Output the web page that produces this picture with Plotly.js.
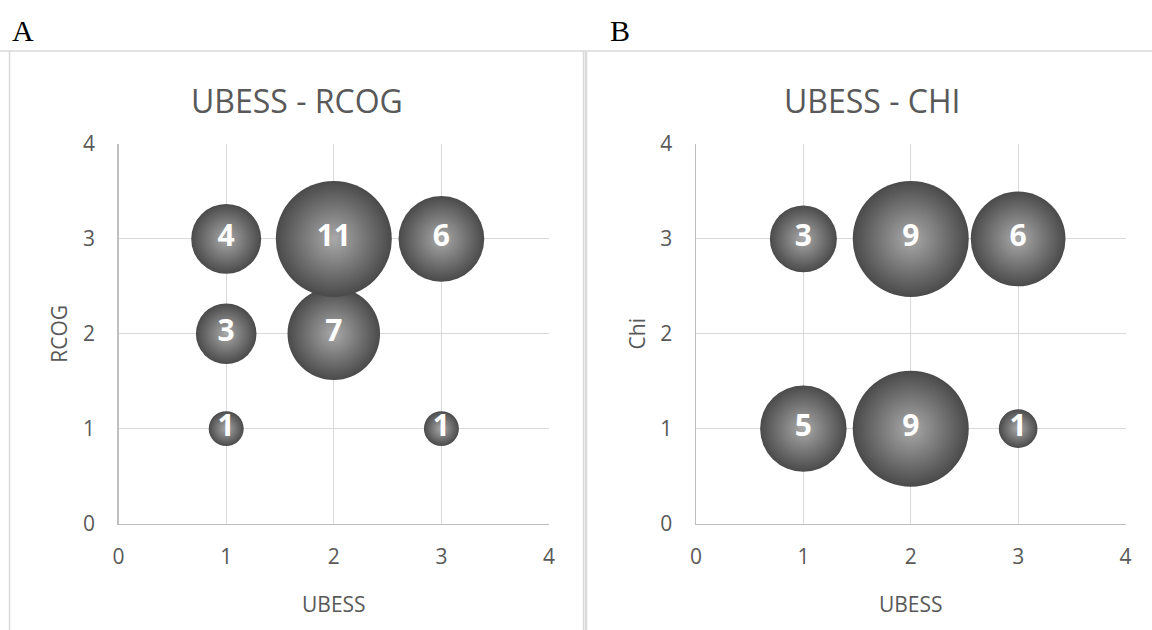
<!DOCTYPE html>
<html>
<head>
<meta charset="utf-8">
<script src="https://cdn.plot.ly/plotly-3.0.1.min.js"></script>
<style>html,body{margin:0;padding:0;background:#fff;}#chart{width:1152px;height:630px;}</style>
</head>
<body>
<div id="chart"></div>
<script>
// Panel A: UBESS vs RCOG
const ubessA = [1, 3, 1, 2, 1, 2, 3];
const rcogA  = [1, 1, 2, 2, 3, 3, 3];
const countA = [1, 1, 3, 7, 4, 11, 6];
// Panel B: UBESS vs Chi
const ubessB = [1, 2, 3, 1, 2, 3];
const chiB   = [1, 1, 1, 3, 3, 3];
const countB = [5, 9, 1, 3, 9, 6];
const tickVals = [0, 1, 2, 3, 4];
const tickText = ['0', '1', '2', '3', '4'];

const MAXD = 116; // px diameter of the largest bubble in each panel
const FONT = 'Open Sans, Noto Sans, sans-serif';
const GREY = '#595959';

function bubbleTraces(x, y, n, xa, ya) {
  const ref = 2 * Math.max(...n) / (MAXD * MAXD);
  return [{
    type: 'scatter', mode: 'markers+text', x: x, y: y, xaxis: xa, yaxis: ya,
    text: n.map(String), textposition: 'middle center',
    textfont: {family: FONT, size: 30, color: '#ffffff', weight: 'bold'},
    marker: {size: n, sizemode: 'area', sizeref: ref, color: '#4a4a4a', opacity: 1,
             gradient: {type: 'radial', color: '#a9a9a9'}, line: {width: 0}},
    cliponaxis: false, hoverinfo: 'skip', showlegend: false
  }];
}

function axis(domain, anchor, titleText, isY) {
  return {
    domain: domain, anchor: anchor, range: [0, 4], tickmode: 'array',
    tickvals: tickVals, ticktext: tickText, ticks: '', showgrid: true,
    gridcolor: '#d9d9d9', gridwidth: 1, zeroline: false, showline: true,
    linecolor: '#bfbfbf', linewidth: 1.5, fixedrange: true,
    tickfont: {family: FONT, size: 21, color: GREY},
    ticklabelstandoff: isY ? 18 : 14,
    title: {text: titleText, font: {family: FONT, size: 21, color: GREY}, standoff: isY ? 9 : 28},
    automargin: false
  };
}

const yDom = [1 - 523.5 / 630, 1 - 144 / 630];
const layout = {
  width: 1152, height: 630, margin: {l: 0, r: 0, t: 0, b: 0},
  paper_bgcolor: '#ffffff', plot_bgcolor: '#ffffff', showlegend: false,
  xaxis:  axis([118.6 / 1152, 549 / 1152], 'y', 'UBESS', false),
  yaxis:  axis(yDom, 'x', 'RCOG', true),
  xaxis2: axis([696 / 1152, 1125.5 / 1152], 'y2', 'UBESS', false),
  yaxis2: axis(yDom, 'x2', 'Chi', true),
  shapes: [
    {type: 'line', xref: 'paper', yref: 'paper', x0: 0, x1: 1, y0: 1 - 51 / 630, y1: 1 - 51 / 630,
     line: {color: '#d9d9d9', width: 1.5}},
    {type: 'line', xref: 'paper', yref: 'paper', x0: 9.5 / 1152, x1: 9.5 / 1152, y0: 0, y1: 1 - 51 / 630,
     line: {color: '#d9d9d9', width: 1.5}},
    {type: 'line', xref: 'paper', yref: 'paper', x0: 583.5 / 1152, x1: 583.5 / 1152, y0: 0, y1: 1 - 51 / 630,
     line: {color: '#d9d9d9', width: 1.5}},
    {type: 'line', xref: 'paper', yref: 'paper', x0: 586 / 1152, x1: 586 / 1152, y0: 0, y1: 1 - 51 / 630,
     line: {color: '#d9d9d9', width: 2.5}}
  ],
  annotations: [
    {text: 'A', xref: 'paper', yref: 'paper', x: 10 / 1152, y: 1 - 30 / 630, xanchor: 'left', yanchor: 'middle',
     showarrow: false, font: {family: 'Liberation Serif, Times New Roman, serif', size: 30, color: '#000'}},
    {text: 'B', xref: 'paper', yref: 'paper', x: 608 / 1152, y: 1 - 30 / 630, xanchor: 'left', yanchor: 'middle',
     showarrow: false, font: {family: 'Liberation Serif, Times New Roman, serif', size: 30, color: '#000'}},
    {text: 'UBESS - RCOG', xref: 'paper', yref: 'paper', x: 297 / 1152, y: 1 - 101 / 630, xanchor: 'center', yanchor: 'middle',
     showarrow: false, font: {family: FONT, size: 32, color: GREY}},
    {text: 'UBESS - CHI', xref: 'paper', yref: 'paper', x: 872 / 1152, y: 1 - 101 / 630, xanchor: 'center', yanchor: 'middle',
     showarrow: false, font: {family: FONT, size: 32, color: GREY}}
  ]
};

const data = [].concat(
  bubbleTraces(ubessA, rcogA, countA, 'x', 'y'),
  bubbleTraces(ubessB, chiB, countB, 'x2', 'y2')
);

Plotly.newPlot('chart', data, layout, {staticPlot: true, displayModeBar: false});
</script>
</body>
</html>
